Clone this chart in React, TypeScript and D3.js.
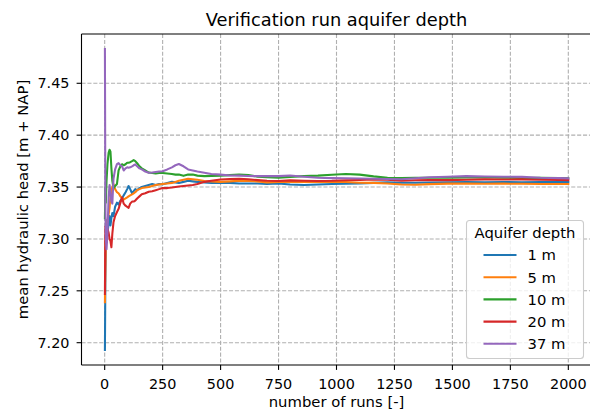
import React, { useEffect } from "react";
import * as d3 from "d3";

// Number of Monte Carlo runs at which the running mean was sampled
const runs = [
  1, 3, 5, 8, 12, 17, 21, 25, 29, 33, 38, 45, 53, 60, 68, 75, 82, 90, 97, 103,
  110, 118, 125, 132, 140, 150, 160, 175, 190, 205, 220, 235, 250, 270, 290, 305,
  320, 340, 360, 380, 400, 430, 460, 500, 540, 580, 620, 660, 700, 750, 800, 860,
  920, 980, 1040, 1100, 1160, 1220, 1280, 1340, 1400, 1480, 1560, 1640, 1720,
  1800, 1880, 1960, 2000,
];

// Running mean hydraulic head [m + NAP] per aquifer depth
const head1m = [
  7.193, 7.262, 7.3, 7.318, 7.305, 7.315, 7.322, 7.313, 7.32, 7.325, 7.322, 7.331,
  7.335, 7.333, 7.337, 7.339, 7.342, 7.345, 7.348, 7.351, 7.348, 7.344, 7.346,
  7.348, 7.347, 7.349, 7.35, 7.351, 7.352, 7.353, 7.352, 7.353, 7.3526, 7.354,
  7.355, 7.3545, 7.354, 7.355, 7.356, 7.3555, 7.355, 7.3545, 7.354, 7.3542, 7.354,
  7.3535, 7.3535, 7.3535, 7.353, 7.3535, 7.3525, 7.352, 7.3525, 7.353, 7.3533,
  7.3535, 7.354, 7.3545, 7.3542, 7.3542, 7.3544, 7.3545, 7.3548, 7.3546, 7.3548,
  7.3547, 7.3549, 7.3548, 7.3548,
];
const head5m = [
  7.239, 7.275, 7.3, 7.312, 7.318, 7.324, 7.33, 7.341, 7.345, 7.35, 7.353, 7.348,
  7.345, 7.344, 7.341, 7.339, 7.338, 7.339, 7.34, 7.341, 7.342, 7.343, 7.344,
  7.345, 7.347, 7.348, 7.349, 7.3495, 7.35, 7.351, 7.352, 7.3525, 7.353, 7.3535,
  7.354, 7.3548, 7.356, 7.357, 7.358, 7.3575, 7.357, 7.3558, 7.3555, 7.355,
  7.3555, 7.356, 7.3558, 7.3555, 7.3545, 7.355, 7.3548, 7.3548, 7.355, 7.3548,
  7.3548, 7.3542, 7.354, 7.3535, 7.3525, 7.3522, 7.3528, 7.3533, 7.3535, 7.3532,
  7.3533, 7.3531, 7.353, 7.353, 7.3529,
];
const head10m = [
  7.32, 7.35, 7.335, 7.356, 7.372, 7.383, 7.386, 7.384, 7.368, 7.356, 7.349,
  7.351, 7.353, 7.366, 7.37, 7.372, 7.371, 7.372, 7.3735, 7.3735, 7.374, 7.375,
  7.376, 7.375, 7.373, 7.37, 7.368, 7.366, 7.364, 7.3635, 7.363, 7.3635, 7.3635,
  7.363, 7.3625, 7.362, 7.362, 7.3608, 7.362, 7.362, 7.361, 7.3605, 7.3608, 7.361,
  7.3615, 7.362, 7.3615, 7.36, 7.3595, 7.359, 7.3598, 7.3605, 7.361, 7.3618,
  7.3626, 7.362, 7.3603, 7.359, 7.3588, 7.359, 7.359, 7.359, 7.3592, 7.3595,
  7.359, 7.3588, 7.359, 7.3586, 7.3585,
];
const head20m = [
  7.247, 7.312, 7.305, 7.3, 7.31, 7.306, 7.3, 7.298, 7.292, 7.305, 7.316, 7.322,
  7.326, 7.329, 7.335, 7.34, 7.334, 7.332, 7.331, 7.33, 7.334, 7.336, 7.336,
  7.337, 7.339, 7.341, 7.343, 7.344, 7.3455, 7.346, 7.347, 7.348, 7.349, 7.349,
  7.3495, 7.35, 7.3505, 7.351, 7.3515, 7.352, 7.353, 7.355, 7.356, 7.3572, 7.3578,
  7.358, 7.3575, 7.3567, 7.356, 7.3558, 7.3564, 7.356, 7.3558, 7.356, 7.3565,
  7.3568, 7.3572, 7.357, 7.356, 7.3565, 7.3567, 7.3567, 7.357, 7.3574, 7.3573,
  7.3574, 7.357, 7.3568, 7.3567,
];
const head37m = [
  7.483, 7.33, 7.3, 7.29, 7.305, 7.34, 7.352, 7.345, 7.336, 7.334, 7.358, 7.367,
  7.372, 7.373, 7.371, 7.37, 7.366, 7.368, 7.369, 7.3686, 7.369, 7.37, 7.371,
  7.3718, 7.37, 7.368, 7.367, 7.365, 7.3638, 7.364, 7.3645, 7.365, 7.3653, 7.367,
  7.369, 7.371, 7.3722, 7.37, 7.367, 7.366, 7.365, 7.3638, 7.3625, 7.362, 7.3612,
  7.361, 7.3607, 7.3605, 7.3605, 7.3605, 7.3612, 7.36, 7.359, 7.3586, 7.3584,
  7.3582, 7.358, 7.3578, 7.3575, 7.3585, 7.3595, 7.36, 7.3605, 7.3602, 7.36,
  7.3598, 7.359, 7.3586, 7.3584,
];

const seriesLabels = ["1 m", "5 m", "10 m", "20 m", "37 m"];
const seriesValues = [head1m, head5m, head10m, head20m, head37m];
const seriesColors = ["#1f77b4", "#ff7f0e", "#2ca02c", "#d62728", "#9467bd"];

const xTicks = [0, 250, 500, 750, 1000, 1250, 1500, 1750, 2000];
const yTicks = [7.2, 7.25, 7.3, 7.35, 7.4, 7.45];

const W = 590;
const H = 412;
const plot = { left: 81.5, right: 591.5, top: 34, bottom: 365 };
const FONT = "'DejaVu Sans', sans-serif";
const gridColor = "#b0b0b0";
const tickFont = 14.4;
const labelFont = 14.8;

export default function App() {
  useEffect(() => {
    document.body.style.margin = "0";
  }, []);

  const x = d3.scaleLinear().domain([-100, 2100]).range([plot.left, plot.right]);
  const y = d3.scaleLinear().domain([7.1785, 7.4975]).range([plot.bottom, plot.top]);

  const line = d3
    .line<[number, number]>()
    .x((d) => x(d[0]))
    .y((d) => y(d[1]));

  const legend = { x0: 466.5, y0: 220.5, w: 117, h: 138 };
  const cx = (plot.left + plot.right) / 2;
  const cy = (plot.top + plot.bottom) / 2;

  return (
    <svg
      width={W}
      height={H}
      viewBox={`0 0 ${W} ${H}`}
      style={{ position: "absolute", left: 0, top: 0, background: "#fff" }}
      fontFamily={FONT}
    >
      <defs>
        <clipPath id="plotArea">
          <rect x={plot.left} y={plot.top} width={plot.right - plot.left} height={plot.bottom - plot.top} />
        </clipPath>
      </defs>

      {/* grid */}
      <g stroke={gridColor} strokeWidth={1.1} strokeDasharray="4.1 1.8" fill="none">
        {xTicks.map((t) => (
          <line key={`gx${t}`} x1={x(t)} x2={x(t)} y1={plot.top} y2={plot.bottom} />
        ))}
        {yTicks.map((t) => (
          <line key={`gy${t}`} x1={plot.left} x2={plot.right} y1={y(t)} y2={y(t)} />
        ))}
      </g>

      {/* series */}
      <g clipPath="url(#plotArea)" fill="none" strokeWidth={2.08} strokeLinejoin="round" strokeLinecap="square">
        {seriesValues.map((vals, i) => (
          <path
            key={seriesLabels[i]}
            d={line(runs.map((r, j) => [r, vals[j]] as [number, number])) || ""}
            stroke={seriesColors[i]}
          />
        ))}
      </g>

      {/* spines */}
      <g stroke="#000" strokeWidth={1.1} fill="none">
        <line x1={plot.left} x2={plot.left} y1={plot.top} y2={plot.bottom} />
        <line x1={plot.left} x2={plot.right} y1={plot.bottom} y2={plot.bottom} />
        <line x1={plot.left} x2={plot.right} y1={plot.top} y2={plot.top} />
      </g>

      {/* x axis */}
      <g fontSize={tickFont} fill="#000" textAnchor="middle">
        {xTicks.map((t) => (
          <g key={`xt${t}`}>
            <line x1={x(t)} x2={x(t)} y1={plot.bottom} y2={plot.bottom + 4.9} stroke="#000" strokeWidth={1.1} />
            <text x={x(t)} y={388.5}>{t}</text>
          </g>
        ))}
      </g>
      <text x={cx} y={407} fontSize={labelFont} textAnchor="middle" fill="#000">
        number of runs [-]
      </text>

      {/* y axis */}
      <g fontSize={tickFont} fill="#000" textAnchor="end">
        {yTicks.map((t) => (
          <g key={`yt${t}`}>
            <line x1={plot.left - 4.9} x2={plot.left} y1={y(t)} y2={y(t)} stroke="#000" strokeWidth={1.1} />
            <text x={69.5} y={y(t) + 5.2}>{d3.format(".2f")(t)}</text>
          </g>
        ))}
      </g>
      <text
        transform={`translate(28,${cy}) rotate(-90)`}
        fontSize={labelFont}
        textAnchor="middle"
        fill="#000"
      >
        mean hydraulic head [m + NAP]
      </text>

      {/* title */}
      <text x={cx} y={26} fontSize={17.8} textAnchor="middle" fill="#000">
        Verification run aquifer depth
      </text>

      {/* legend */}
      <g>
        <rect
          x={legend.x0}
          y={legend.y0}
          width={legend.w}
          height={legend.h}
          rx={3}
          fill="#fff"
          fillOpacity={0.8}
          stroke="#cccccc"
          strokeWidth={1.1}
        />
        <text x={legend.x0 + legend.w / 2} y={237.5} fontSize={labelFont} textAnchor="middle" fill="#000">
          Aquifer depth
        </text>
        {seriesLabels.map((lab, i) => {
          const ly = 255 + i * 22.2;
          return (
            <g key={`lg${lab}`}>
              <line x1={483.5} x2={516.5} y1={ly} y2={ly} stroke={seriesColors[i]} strokeWidth={2.08} />
              <text x={527.5} y={ly + 5.3} fontSize={labelFont} fill="#000">
                {lab}
              </text>
            </g>
          );
        })}
      </g>
    </svg>
  );
}
